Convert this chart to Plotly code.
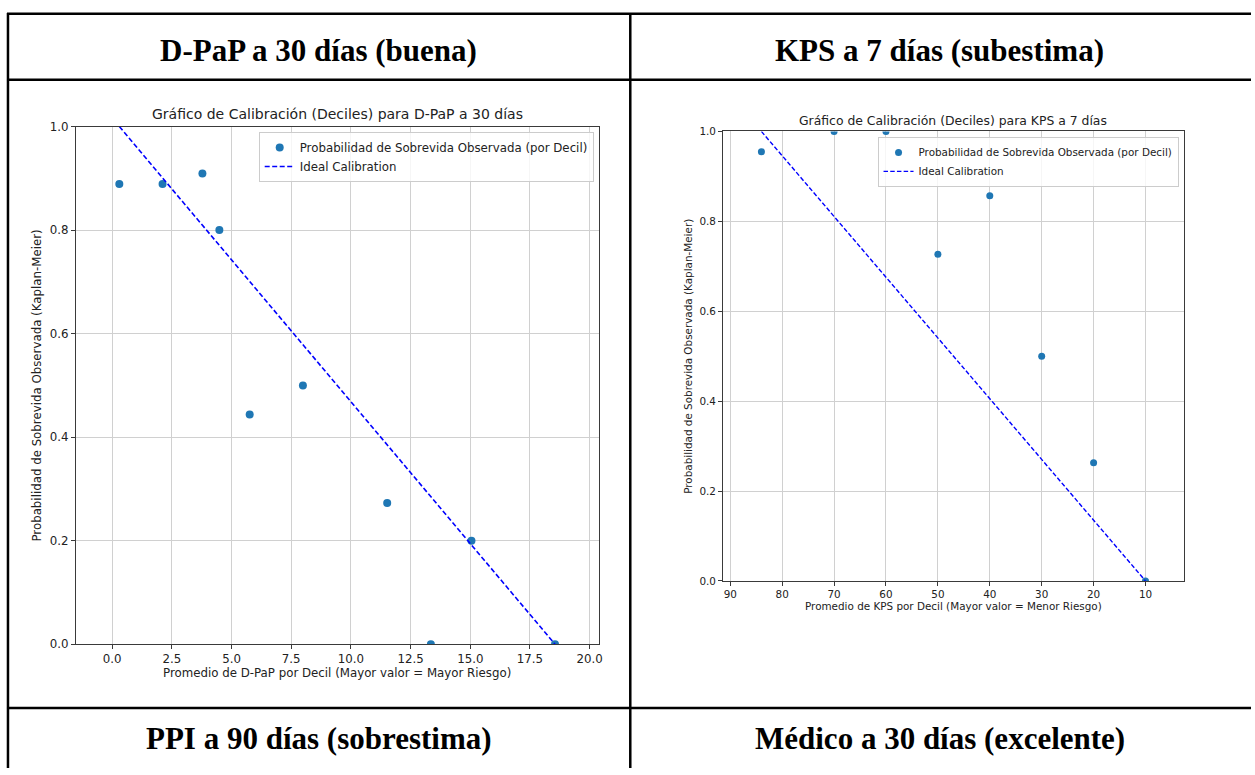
import plotly.graph_objects as go

# ---------------- data ----------------
dpap_x = [0.30, 2.11, 3.78, 4.49, 5.76, 7.99, 11.52, 13.35, 15.05, 18.55]
dpap_y = [0.889, 0.889, 0.909, 0.800, 0.444, 0.500, 0.273, 0.000, 0.200, 0.000]

kps_x = [84.0, 70.0, 60.0, 50.0, 40.0, 30.0, 20.0, 10.0]
kps_y = [0.955, 1.000, 1.000, 0.727, 0.857, 0.500, 0.263, 0.000]

dpap_xticks = [0.0, 2.5, 5.0, 7.5, 10.0, 12.5, 15.0, 17.5, 20.0]
kps_xticks = [90, 80, 70, 60, 50, 40, 30, 20, 10]
prob_ticks = [0.0, 0.2, 0.4, 0.6, 0.8, 1.0]

headers_top = ["D-PaP a 30 días (buena)", "KPS a 7 días (subestima)"]
headers_bottom = ["PPI a 90 días (sobrestima)", "Médico a 30 días (excelente)"]

title_dpap = "Gráfico de Calibración (Deciles) para D-PaP a 30 días"
title_kps = "Gráfico de Calibración (Deciles) para KPS a 7 días"
xlabel_dpap = "Promedio de D-PaP por Decil (Mayor valor = Mayor Riesgo)"
xlabel_kps = "Promedio de KPS por Decil (Mayor valor = Menor Riesgo)"
ylabel = "Probabilidad de Sobrevida Observada (Kaplan-Meier)"
legend_obs = "Probabilidad de Sobrevida Observada (por Decil)"
legend_ideal = "Ideal Calibration"

# ideal calibration lines built from data extremes
dpap_ideal_x = [min(dpap_x), max(dpap_x)]
dpap_ideal_y = [1.0, 0.0]
kps_ideal_x = [max(kps_x), min(kps_x)]
kps_ideal_y = [1.0, 0.0]

W, H = 1255, 775
FONT = "DejaVu Sans"
PT_COLOR = "#1f77b4"
TXT = "#222222"

FS_L = 11.8   # left chart base font
FS_R = 10.4   # right chart base font


def px_x(v):
    return v / W


def px_y(v):
    return 1 - v / H


def padded(lo, hi, f=0.1):
    d = (hi - lo) * f
    return lo - d, hi + d


fig = go.Figure()

# left chart
fig.add_trace(go.Scatter(x=dpap_x, y=dpap_y, mode="markers", name=legend_obs,
                         marker=dict(color=PT_COLOR, size=8), xaxis="x", yaxis="y",
                         legend="legend"))
fig.add_trace(go.Scatter(x=dpap_ideal_x, y=dpap_ideal_y, mode="lines", name=legend_ideal,
                         line=dict(color="#0000ff", width=1.6, dash="5px,2.5px"),
                         xaxis="x", yaxis="y", legend="legend"))
# right chart
fig.add_trace(go.Scatter(x=kps_x, y=kps_y, mode="markers", name=legend_obs,
                         marker=dict(color=PT_COLOR, size=7), xaxis="x2", yaxis="y2",
                         legend="legend2"))
fig.add_trace(go.Scatter(x=kps_ideal_x, y=kps_ideal_y, mode="lines", name=legend_ideal,
                         line=dict(color="#0000ff", width=1.4, dash="4.5px,2.2px"),
                         xaxis="x2", yaxis="y2", legend="legend2"))

lo1, hi1 = padded(min(dpap_x), max(dpap_x))
lo2, hi2 = padded(min(kps_x), max(kps_x))

axis_common = dict(showgrid=True, gridcolor="#d0d0d0", gridwidth=1, zeroline=False,
                   showline=True, linecolor="#3a3a3a", linewidth=1, mirror=True,
                   ticks="outside", ticklen=4, tickcolor="#3a3a3a", tickwidth=1)

L_left, L_right, L_top, L_bot = 76, 600.5, 121.7, 649
R_left, R_right, R_top, R_bot = 725.3, 1187.7, 126.7, 584.5

fig.update_layout(
    width=W, height=H, margin=dict(l=0, r=0, t=0, b=0),
    paper_bgcolor="white", plot_bgcolor="white",
    font=dict(family=FONT, color=TXT),
    showlegend=True,
    hovermode=False,
    xaxis=dict(domain=[px_x(L_left), px_x(L_right)], range=[lo1, hi1], anchor="y",
               tickvals=dpap_xticks, tickformat=".1f",
               tickfont=dict(size=FS_L, family=FONT, color=TXT), **axis_common),
    yaxis=dict(domain=[px_y(L_bot), px_y(L_top)], range=[0, 1], anchor="x",
               tickvals=prob_ticks, tickformat=".1f",
               tickfont=dict(size=FS_L, family=FONT, color=TXT), **axis_common),
    xaxis2=dict(domain=[px_x(R_left), px_x(R_right)], range=[hi2, lo2], anchor="y2",
                tickvals=kps_xticks,
                tickfont=dict(size=FS_R, family=FONT, color=TXT), **axis_common),
    yaxis2=dict(domain=[px_y(R_bot), px_y(R_top)], range=[0, 1], anchor="x2",
                tickvals=prob_ticks, tickformat=".1f",
                tickfont=dict(size=FS_R, family=FONT, color=TXT), **axis_common),
    legend=dict(x=px_x(595.6), y=px_y(127.3), xanchor="right", yanchor="top",
                bgcolor="rgba(255,255,255,0.8)", bordercolor="#cccccc", borderwidth=1,
                font=dict(size=FS_L, family=FONT, color=TXT), tracegroupgap=0,
                itemwidth=30),
    legend2=dict(x=px_x(1182.3), y=px_y(132.3), xanchor="right", yanchor="top",
                 bgcolor="rgba(255,255,255,0.8)", bordercolor="#cccccc", borderwidth=1,
                 font=dict(size=FS_R, family=FONT, color=TXT), tracegroupgap=0,
                 itemwidth=30),
)

ann = []
# chart titles and axis labels
ann.append(dict(text=title_dpap, x=px_x((L_left + L_right) / 2), y=px_y(109.3),
                font=dict(size=14, family=FONT, color=TXT)))
ann.append(dict(text=title_kps, x=px_x((R_left + R_right) / 2), y=px_y(115.7),
                font=dict(size=12.4, family=FONT, color=TXT)))
ann.append(dict(text=xlabel_dpap, x=px_x((L_left + L_right) / 2), y=px_y(678.3),
                font=dict(size=FS_L, family=FONT, color=TXT)))
ann.append(dict(text=xlabel_kps, x=px_x((R_left + R_right) / 2), y=px_y(610),
                font=dict(size=FS_R, family=FONT, color=TXT)))
ann.append(dict(text=ylabel, x=px_x(37.3), y=px_y((L_top + L_bot) / 2), textangle=-90,
                font=dict(size=FS_L, family=FONT, color=TXT)))
ann.append(dict(text=ylabel, x=px_x(690.8), y=px_y((R_top + R_bot) / 2), textangle=-90,
                font=dict(size=FS_R, family=FONT, color=TXT)))
# table headers
hdr_font = dict(size=31, family="Liberation Serif", color="#000000")
col_centers = [320, 943]
for txt, cx in zip(headers_top, col_centers):
    ann.append(dict(text="<b>%s</b>" % txt, x=px_x(cx), y=px_y(44), font=hdr_font))
for txt, cx in zip(headers_bottom, col_centers):
    ann.append(dict(text="<b>%s</b>" % txt, x=px_x(cx), y=px_y(745), font=hdr_font))
for a in ann:
    a.update(xref="paper", yref="paper", showarrow=False, xanchor="center", yanchor="middle")
fig.update_layout(annotations=ann)

# table borders
line = dict(color="black", width=2.5)
shapes = [
    dict(type="line", x0=px_x(7), x1=1, y0=px_y(7), y1=px_y(7), line=line),
    dict(type="line", x0=px_x(7), x1=1, y0=px_y(74), y1=px_y(74), line=line),
    dict(type="line", x0=px_x(7), x1=1, y0=px_y(714), y1=px_y(714), line=line),
    dict(type="line", x0=px_x(8), x1=px_x(8), y0=px_y(6), y1=0, line=line),
    dict(type="line", x0=px_x(632.3), x1=px_x(632.3), y0=px_y(6), y1=0, line=line),
]
for s in shapes:
    s.update(xref="paper", yref="paper", layer="above")
fig.update_layout(shapes=shapes)

fig.write_html(
    "out.html",
    config={"displayModeBar": False, "staticPlot": False},
    post_script="document.body.style.margin='0px';document.body.style.overflow='hidden';",
)
